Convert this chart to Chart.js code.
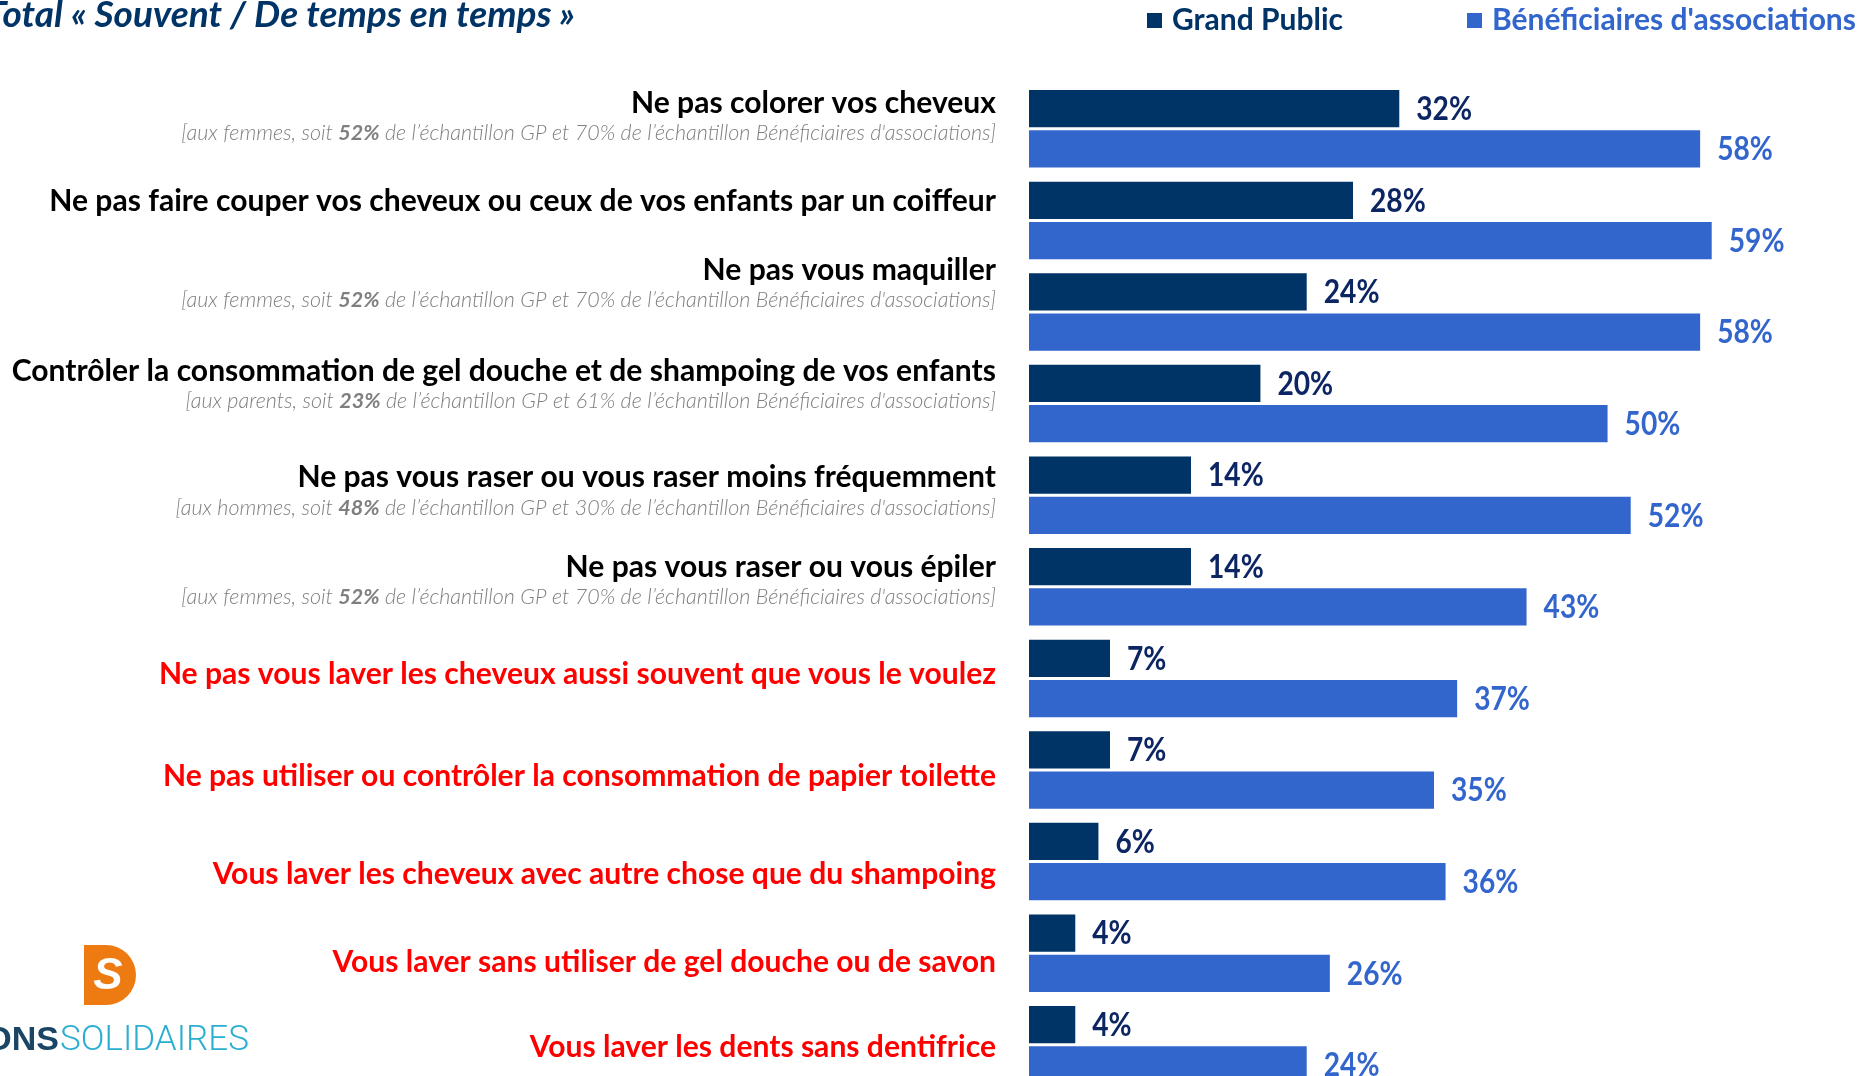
<!DOCTYPE html>
<html lang="fr">
<head>
<meta charset="utf-8">
<title>Total « Souvent / De temps en temps »</title>
<script src="https://cdn.jsdelivr.net/npm/chart.js@4.4.1/dist/chart.umd.min.js"></script>
<style>
  html, body { margin: 0; padding: 0; background: #ffffff; overflow: hidden; width: 1876px; height: 1076px; }
  #wrap { position: absolute; left: 0; top: 0; width: 1876px; height: 1100px; }
  canvas { display: block; }
</style>
</head>
<body>
<div id="wrap"><canvas id="chart" width="1876" height="1100"></canvas></div>
<script>
// ---------------- DATA ----------------
const chartTitle = 'Total « Souvent / De temps en temps »';
const seriesNames = ['Grand Public', "Bénéficiaires d'associations"];
const categories = [
  'Ne pas colorer vos cheveux',
  'Ne pas faire couper vos cheveux ou ceux de vos enfants par un coiffeur',
  'Ne pas vous maquiller',
  'Contrôler la consommation de gel douche et de shampoing de vos enfants',
  'Ne pas vous raser ou vous raser moins fréquemment',
  'Ne pas vous raser ou vous épiler',
  'Ne pas vous laver les cheveux aussi souvent que vous le voulez',
  'Ne pas utiliser ou contrôler la consommation de papier toilette',
  'Vous laver les cheveux avec autre chose que du shampoing',
  'Vous laver sans utiliser de gel douche ou de savon',
  'Vous laver les dents sans dentifrice'
];
const grandPublic   = [32, 28, 24, 20, 14, 14, 7, 7, 6, 4, 4];
const beneficiaires = [58, 59, 58, 50, 52, 43, 37, 35, 36, 26, 24];
const subBefore = ['[aux femmes, soit ', null, '[aux femmes, soit ', '[aux parents, soit ', '[aux hommes, soit ', '[aux femmes, soit ', null, null, null, null, null];
const subBold   = ['52%', null, '52%', '23%', '48%', '52%', null, null, null, null, null];
const subAfter  = [
  " de l’échantillon GP et 70% de l’échantillon Bénéficiaires d'associations]",
  null,
  " de l’échantillon GP et 70% de l’échantillon Bénéficiaires d'associations]",
  " de l’échantillon GP et 61% de l’échantillon Bénéficiaires d'associations]",
  " de l’échantillon GP et 30% de l’échantillon Bénéficiaires d'associations]",
  " de l’échantillon GP et 70% de l’échantillon Bénéficiaires d'associations]",
  null, null, null, null, null
];
const highlighted = [false, false, false, false, false, false, true, true, true, true, true];

// ---------------- STYLE / LAYOUT ----------------
const FONT = 'Lato, "Open Sans", sans-serif';
const COL_DARK = '#003366';
const COL_LIGHT = '#3366CC';
const COL_DARK_TXT = '#0C2563';
const COL_RED = '#FF0000';
const COL_GREY = '#7F7F7F';
// vertical shift of each category text block relative to its category centre (px)
const labelShift = [-26, -19, -42, -33, -18, -20, -4, 6, 12, 9, 2];
const SUB_GAP = 30.5;
const LABEL_RIGHT = 996;

function drawScaled(ctx, text, x, y, sx, align) {
  ctx.save();
  ctx.translate(x, y);
  ctx.scale(sx, 1);
  ctx.textAlign = align;
  ctx.fillText(text, 0, 0);
  ctx.restore();
}

const decor = {
  id: 'decor',
  afterDatasetsDraw(chart) {
    const ctx = chart.ctx;
    const yScale = chart.scales.y;
    ctx.save();
    // value labels
    chart.data.datasets.forEach((ds, di) => {
      const meta = chart.getDatasetMeta(di);
      meta.data.forEach((bar, i) => {
        ctx.font = 'bold 32px ' + FONT;
        ctx.fillStyle = di === 0 ? COL_DARK_TXT : COL_LIGHT;
        ctx.textBaseline = 'middle';
        drawScaled(ctx, ds.data[i] + '%', bar.x + 17, bar.y + 1, 0.88, 'left');
      });
    });
    // category labels
    chart.data.labels.forEach((lab, i) => {
      const yc = yScale.getPixelForValue(i) + labelShift[i];
      ctx.font = 'bold 31px ' + FONT;
      ctx.fillStyle = highlighted[i] ? COL_RED : '#000000';
      ctx.textBaseline = 'middle';
      drawScaled(ctx, lab, LABEL_RIGHT, yc, 0.97, 'right');
      if (subBefore[i]) {
        const fN = 'italic 300 21.5px ' + FONT;
        const fB = 'italic bold 21.5px ' + FONT;
        ctx.font = fN; const w1 = ctx.measureText(subBefore[i]).width;
        ctx.font = fB; const w2 = ctx.measureText(subBold[i]).width;
        ctx.font = fN; const w3 = ctx.measureText(subAfter[i]).width;
        let x = LABEL_RIGHT - (w1 + w2 + w3);
        const ys = yc + SUB_GAP;
        ctx.textAlign = 'left';
        ctx.fillStyle = COL_GREY;
        ctx.font = fN; ctx.fillText(subBefore[i], x, ys); x += w1;
        ctx.font = fB; ctx.fillText(subBold[i], x, ys); x += w2;
        ctx.font = fN; ctx.fillText(subAfter[i], x, ys);
      }
    });
    // title
    ctx.font = 'italic bold 37px ' + FONT;
    ctx.fillStyle = COL_DARK;
    ctx.textAlign = 'right';
    ctx.textBaseline = 'alphabetic';
    ctx.fillText(chartTitle, 575, 27);
    // legend
    const legendPos = [1147, 1467];
    chart.data.datasets.forEach((ds, di) => {
      const x = legendPos[di];
      ctx.fillStyle = ds.backgroundColor;
      ctx.fillRect(x, 13, 15, 15);
      ctx.font = 'bold 30px ' + FONT;
      ctx.fillStyle = di === 0 ? COL_DARK : COL_LIGHT;
      ctx.textAlign = 'left';
      ctx.textBaseline = 'alphabetic';
      ctx.fillText(ds.label, x + 25, 30);
    });
    // logo
    ctx.fillStyle = '#EE7B12';
    ctx.beginPath();
    ctx.moveTo(84, 945);
    ctx.lineTo(106, 945);
    ctx.arc(106, 975, 30, -Math.PI / 2, Math.PI / 2);
    ctx.lineTo(84, 1005);
    ctx.closePath();
    ctx.fill();
    ctx.fillStyle = '#ffffff';
    ctx.font = 'italic bold 44px "Liberation Sans", sans-serif';
    ctx.textAlign = 'center';
    ctx.textBaseline = 'middle';
    ctx.fillText('S', 108, 977);
    ctx.textBaseline = 'alphabetic';
    ctx.textAlign = 'right';
    ctx.font = 'bold 34px "Liberation Sans", sans-serif';
    ctx.fillStyle = '#1B4565';
    ctx.fillText('DONS', 59, 1050);
    ctx.textAlign = 'left';
    ctx.font = '300 35px Roboto, "Liberation Sans", sans-serif';
    ctx.fillStyle = '#2BAED0';
    ctx.fillText('SOLIDAIRES', 60, 1050);
    ctx.restore();
  }
};

new Chart(document.getElementById('chart'), {
  type: 'bar',
  data: {
    labels: categories,
    datasets: [
      { label: seriesNames[0], data: grandPublic, backgroundColor: COL_DARK, barPercentage: 0.925, categoryPercentage: 0.879 },
      { label: seriesNames[1], data: beneficiaires, backgroundColor: COL_LIGHT, barPercentage: 0.925, categoryPercentage: 0.879 }
    ]
  },
  options: {
    indexAxis: 'y',
    responsive: false,
    animation: false,
    events: [],
    layout: { padding: { left: 1029, top: 83, right: 37, bottom: 9.4 } },
    scales: {
      x: { min: 0, max: 70, display: false },
      y: { display: false }
    },
    plugins: { legend: { display: false }, tooltip: { enabled: false }, title: { display: false } }
  },
  plugins: [decor]
});
</script>
</body>
</html>
